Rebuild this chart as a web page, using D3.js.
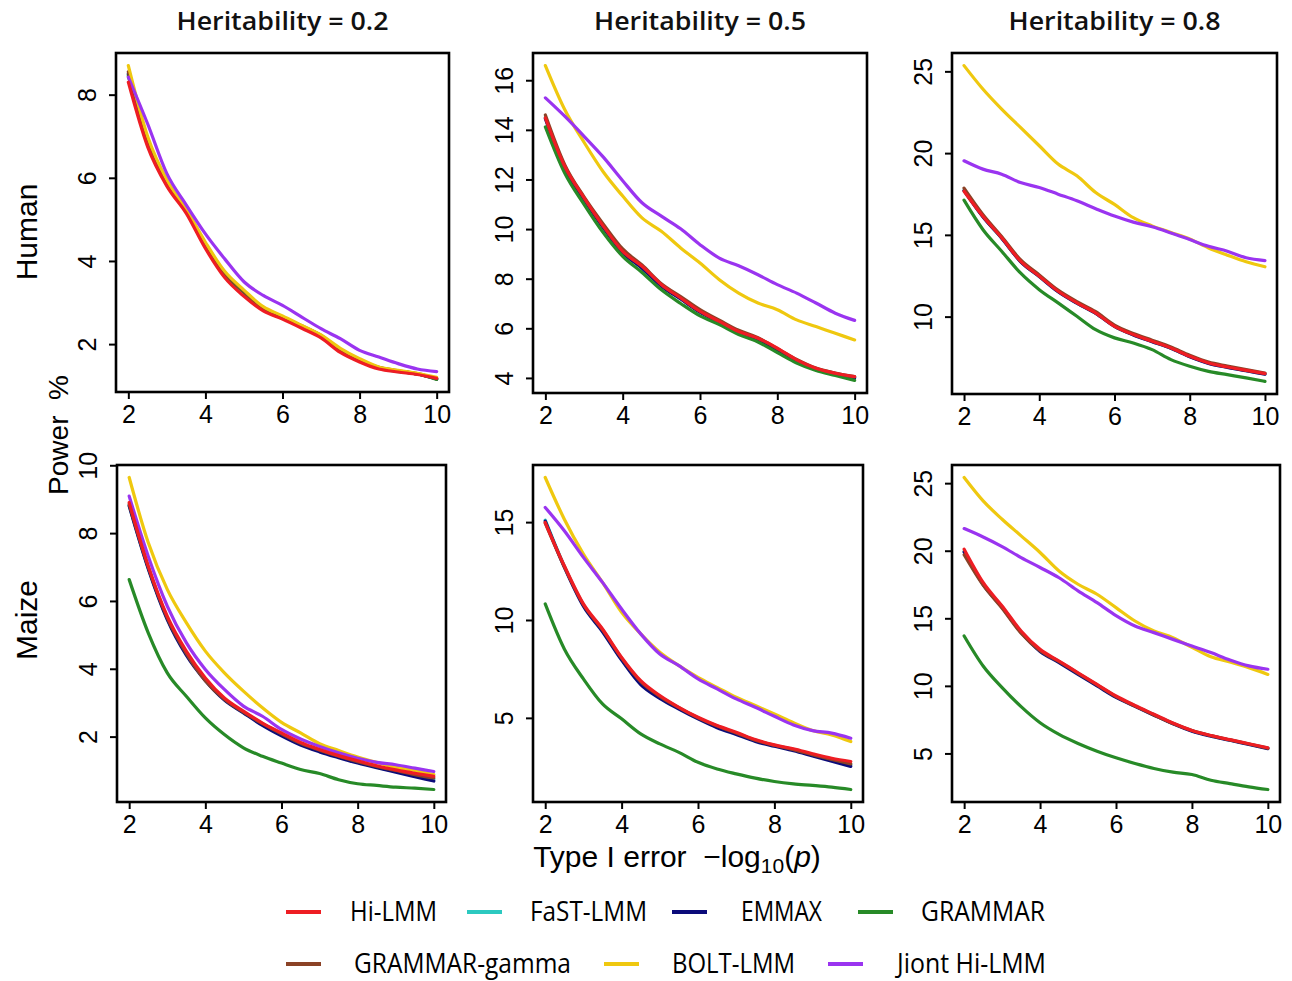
<!DOCTYPE html>
<html>
<head>
<meta charset="utf-8">
<script src="https://cdn.jsdelivr.net/npm/d3@7"></script>
<style>
  body { margin: 0; background: #fff; }
  svg { display: block; }
</style>
</head>
<body>
<svg id="chart" width="1292" height="981"></svg>
<script>
// ---- data -------------------------------------------------------------
const xValues = [2, 2.5, 3, 3.5, 4, 4.5, 5, 5.5, 6, 6.5, 7, 7.5, 8, 8.5, 9, 9.5, 10];
const xTicks = [2, 4, 6, 8, 10];

const methods = ["Hi-LMM", "FaST-LMM", "EMMAX", "GRAMMAR", "GRAMMAR-gamma", "BOLT-LMM", "Jiont Hi-LMM"];
const methodColors = ["#ee1d23", "#2cc9c0", "#0b0b7a", "#278a27", "#8b4226", "#efc80f", "#9a34f0"];

const heritabilityLabels = ["Heritability = 0.2", "Heritability = 0.5", "Heritability = 0.8"];
const speciesLabels = ["Human", "Maize"];

// power (%) per method, rows in the order of `methods`
const humanH02 = [
  [8.3, 6.75, 5.8, 5.15, 4.3, 3.6, 3.15, 2.8, 2.6, 2.38, 2.15, 1.8, 1.57, 1.4, 1.33, 1.27, 1.18],
  [8.48, 6.87, 5.87, 5.19, 4.37, 3.69, 3.24, 2.84, 2.63, 2.41, 2.19, 1.85, 1.6, 1.42, 1.34, 1.28, 1.16],
  [8.5, 6.88, 5.88, 5.2, 4.38, 3.7, 3.25, 2.85, 2.64, 2.42, 2.2, 1.86, 1.61, 1.43, 1.35, 1.28, 1.16],
  [8.45, 6.85, 5.88, 5.2, 4.38, 3.7, 3.25, 2.85, 2.63, 2.42, 2.2, 1.85, 1.6, 1.43, 1.35, 1.28, 1.15],
  [8.55, 6.9, 5.9, 5.22, 4.4, 3.72, 3.27, 2.87, 2.65, 2.44, 2.21, 1.87, 1.62, 1.44, 1.36, 1.29, 1.17],
  [8.7, 7.0, 5.95, 5.25, 4.45, 3.75, 3.3, 2.9, 2.68, 2.45, 2.22, 1.9, 1.65, 1.45, 1.37, 1.3, 1.2],
  [8.42, 7.3, 6.1, 5.35, 4.65, 4.05, 3.5, 3.17, 2.93, 2.65, 2.37, 2.13, 1.85, 1.69, 1.53, 1.4, 1.34]
];
const humanH05 = [
  [14.48, 12.53, 11.26, 10.11, 9.1, 8.5, 7.76, 7.22, 6.68, 6.28, 5.87, 5.6, 5.2, 4.73, 4.39, 4.19, 4.05],
  [14.5, 12.5, 11.22, 10.08, 9.07, 8.45, 7.73, 7.2, 6.66, 6.26, 5.85, 5.57, 5.15, 4.71, 4.37, 4.18, 4.02],
  [14.45, 12.45, 11.2, 10.05, 9.05, 8.42, 7.7, 7.18, 6.65, 6.24, 5.83, 5.55, 5.12, 4.7, 4.36, 4.17, 4.0],
  [14.12, 12.26, 11.0, 9.85, 8.9, 8.25, 7.55, 7.0, 6.5, 6.15, 5.75, 5.45, 5.02, 4.6, 4.3, 4.1, 3.9],
  [14.6, 12.6, 11.3, 10.2, 9.2, 8.55, 7.8, 7.28, 6.75, 6.33, 5.92, 5.62, 5.18, 4.75, 4.4, 4.2, 4.05],
  [16.59, 14.82, 13.5, 12.3, 11.33, 10.45, 9.91, 9.24, 8.63, 7.96, 7.42, 7.02, 6.75, 6.34, 6.07, 5.8, 5.53],
  [15.29, 14.55, 13.74, 12.9, 11.95, 11.06, 10.52, 10.01, 9.37, 8.83, 8.52, 8.16, 7.76, 7.42, 7.02, 6.61, 6.32]
];
const humanH08 = [
  [17.67, 16.14, 14.82, 13.39, 12.47, 11.55, 10.84, 10.22, 9.41, 8.9, 8.49, 8.08, 7.57, 7.16, 6.92, 6.71, 6.51],
  [17.72, 16.12, 14.81, 13.38, 12.46, 11.54, 10.83, 10.21, 9.41, 8.89, 8.48, 8.07, 7.56, 7.15, 6.91, 6.7, 6.5],
  [17.7, 16.1, 14.8, 13.37, 12.45, 11.52, 10.82, 10.2, 9.4, 8.88, 8.47, 8.06, 7.55, 7.14, 6.9, 6.69, 6.48],
  [17.12, 15.33, 14.0, 12.67, 11.65, 10.84, 10.02, 9.2, 8.7, 8.39, 7.98, 7.37, 6.96, 6.65, 6.45, 6.25, 6.04],
  [17.86, 16.25, 14.9, 13.48, 12.55, 11.62, 10.92, 10.3, 9.48, 8.97, 8.56, 8.14, 7.64, 7.22, 6.98, 6.76, 6.55],
  [25.35, 23.92, 22.69, 21.57, 20.45, 19.33, 18.61, 17.59, 16.86, 16.05, 15.55, 15.15, 14.75, 14.2, 13.76, 13.35, 13.05],
  [19.53, 19.02, 18.71, 18.2, 17.9, 17.49, 17.08, 16.6, 16.15, 15.78, 15.5, 15.12, 14.71, 14.3, 14.0, 13.6, 13.43]
];
const maizeH02 = [
  [8.9, 7.03, 5.55, 4.52, 3.73, 3.14, 2.75, 2.4, 2.11, 1.83, 1.62, 1.44, 1.29, 1.14, 1.02, 0.92, 0.83],
  [8.82, 6.97, 5.48, 4.45, 3.68, 3.1, 2.72, 2.36, 2.05, 1.78, 1.58, 1.4, 1.25, 1.1, 0.98, 0.86, 0.74],
  [8.8, 6.95, 5.45, 4.4, 3.65, 3.08, 2.7, 2.33, 2.02, 1.75, 1.55, 1.38, 1.22, 1.08, 0.95, 0.82, 0.69],
  [6.63, 5.06, 3.88, 3.19, 2.55, 2.06, 1.67, 1.42, 1.22, 1.03, 0.91, 0.73, 0.61, 0.56, 0.51, 0.48, 0.44],
  [8.85, 7.0, 5.5, 4.45, 3.65, 3.1, 2.72, 2.38, 2.08, 1.8, 1.6, 1.42, 1.26, 1.12, 1.0, 0.88, 0.78],
  [9.64, 7.72, 6.34, 5.36, 4.52, 3.88, 3.34, 2.85, 2.42, 2.11, 1.79, 1.59, 1.4, 1.24, 1.1, 1.0, 0.88],
  [9.09, 7.32, 5.85, 4.77, 3.98, 3.39, 2.9, 2.6, 2.21, 1.93, 1.71, 1.52, 1.36, 1.24, 1.17, 1.07, 0.97]
];
const maizeH05 = [
  [14.98, 12.77, 10.82, 9.54, 8.09, 6.9, 6.14, 5.54, 5.03, 4.61, 4.27, 3.89, 3.62, 3.42, 3.17, 2.94, 2.77],
  [15.1, 12.75, 10.75, 9.45, 8.0, 6.78, 6.06, 5.5, 5.0, 4.55, 4.2, 3.85, 3.58, 3.37, 3.1, 2.85, 2.6],
  [15.05, 12.7, 10.7, 9.4, 7.95, 6.7, 6.0, 5.45, 4.95, 4.5, 4.15, 3.8, 3.55, 3.32, 3.05, 2.78, 2.52],
  [10.82, 8.52, 6.99, 5.71, 4.95, 4.18, 3.67, 3.24, 2.73, 2.39, 2.14, 1.92, 1.75, 1.63, 1.55, 1.46, 1.34],
  [14.95, 12.72, 10.78, 9.5, 8.05, 6.85, 6.1, 5.52, 5.0, 4.58, 4.23, 3.86, 3.6, 3.38, 3.12, 2.88, 2.65],
  [17.28, 15.15, 13.37, 11.92, 10.39, 9.29, 8.35, 7.67, 7.07, 6.56, 6.05, 5.63, 5.2, 4.75, 4.35, 4.13, 3.79],
  [15.75, 14.56, 13.2, 11.92, 10.56, 9.29, 8.26, 7.67, 6.99, 6.48, 5.97, 5.54, 5.08, 4.64, 4.35, 4.22, 3.96]
];
const maizeH08 = [
  [20.11, 17.65, 15.91, 14.06, 12.7, 11.84, 10.97, 10.11, 9.25, 8.55, 7.9, 7.25, 6.7, 6.33, 6.02, 5.72, 5.42],
  [19.95, 17.55, 15.85, 14.0, 12.6, 11.78, 10.9, 10.05, 9.2, 8.52, 7.87, 7.23, 6.68, 6.31, 6.0, 5.7, 5.4],
  [19.9, 17.5, 15.8, 13.95, 12.55, 11.72, 10.85, 10.0, 9.15, 8.48, 7.83, 7.2, 6.65, 6.28, 5.98, 5.66, 5.35],
  [13.69, 11.47, 9.87, 8.46, 7.27, 6.41, 5.74, 5.17, 4.68, 4.26, 3.89, 3.62, 3.44, 3.02, 2.77, 2.53, 2.33],
  [19.7, 17.45, 15.75, 13.9, 12.6, 11.8, 10.93, 10.08, 9.2, 8.5, 7.85, 7.22, 6.7, 6.32, 6.0, 5.7, 5.38],
  [25.42, 23.69, 22.33, 21.1, 19.87, 18.5, 17.52, 16.78, 15.79, 14.8, 14.06, 13.57, 12.85, 12.15, 11.77, 11.35, 10.85],
  [21.64, 21.02, 20.31, 19.49, 18.76, 18.0, 17.03, 16.16, 15.2, 14.43, 13.94, 13.44, 12.95, 12.46, 11.92, 11.48, 11.23]
];

const yTicksHuman = [[2, 4, 6, 8], [4, 6, 8, 10, 12, 14, 16], [10, 15, 20, 25]];
const yTicksMaize = [[2, 4, 6, 8, 10], [5, 10, 15], [5, 10, 15, 20, 25]];

// ---- layout -----------------------------------------------------------
const svg = d3.select("#chart");
const tickFont = "'Liberation Sans', Arial, Helvetica, sans-serif";
const labelFont = "'Open Sans', 'Noto Sans', 'Liberation Sans', sans-serif";

const panels = [
  { row: 0, col: 0, data: humanH02, yTicks: yTicksHuman[0], box: [116, 449, 53, 392] },
  { row: 0, col: 1, data: humanH05, yTicks: yTicksHuman[1], box: [533, 867, 53, 393] },
  { row: 0, col: 2, data: humanH08, yTicks: yTicksHuman[2], box: [952, 1277, 53, 394] },
  { row: 1, col: 0, data: maizeH02, yTicks: yTicksMaize[0], box: [117, 446, 465, 802] },
  { row: 1, col: 1, data: maizeH05, yTicks: yTicksMaize[1], box: [533, 863, 465, 802] },
  { row: 1, col: 2, data: maizeH08, yTicks: yTicksMaize[2], box: [952, 1280, 465, 802] }
];

// lines drawn back to front; Hi-LMM ends up on top
const drawOrder = [1, 2, 3, 4, 5, 6, 0];

panels.forEach(p => {
  const [x0, x1, y0, y1] = p.box;
  const g = svg.append("g");

  // R-style axis limits: data range widened by 4% on each side
  const xr = d3.extent(xValues), xpad = (xr[1] - xr[0]) * 0.04;
  const x = d3.scaleLinear().domain([xr[0] - xpad, xr[1] + xpad]).range([x0, x1]);
  const all = p.data.flat();
  const yr = d3.extent(all), ypad = (yr[1] - yr[0]) * 0.04;
  const y = d3.scaleLinear().domain([yr[0] - ypad, yr[1] + ypad]).range([y1, y0]);

  const line = d3.line()
    .x((d, i) => x(xValues[i]))
    .y(d => y(d))
    .curve(d3.curveMonotoneX);

  drawOrder.forEach(m => {
    g.append("path")
      .datum(p.data[m])
      .attr("d", line)
      .attr("fill", "none")
      .attr("stroke", methodColors[m])
      .attr("stroke-width", 3.2)
      .attr("stroke-linejoin", "round")
      .attr("stroke-linecap", "round");
  });

  // frame
  g.append("rect")
    .attr("x", x0).attr("y", y0)
    .attr("width", x1 - x0).attr("height", y1 - y0)
    .attr("fill", "none").attr("stroke", "#000").attr("stroke-width", 2.6);

  // x axis
  const xAxis = d3.axisBottom(x).tickValues(xTicks).tickSize(7).tickPadding(6).tickFormat(d3.format("d"));
  const gx = g.append("g").attr("transform", `translate(0,${y1})`).call(xAxis);
  gx.select(".domain").remove();
  gx.selectAll(".tick line").attr("stroke", "#000").attr("stroke-width", 2);
  gx.selectAll(".tick text")
    .attr("font-family", tickFont).attr("font-size", 25).attr("fill", "#000")
    .attr("dy", null).attr("y", 31);

  // y axis, labels parallel to the axis
  const yAxis = d3.axisLeft(y).tickValues(p.yTicks).tickSize(7).tickFormat(d3.format("d"));
  const gy = g.append("g").attr("transform", `translate(${x0},0)`).call(yAxis);
  gy.select(".domain").remove();
  gy.selectAll(".tick line").attr("stroke", "#000").attr("stroke-width", 2);
  gy.selectAll(".tick text")
    .attr("font-family", tickFont).attr("font-size", 25).attr("fill", "#000")
    .attr("x", null).attr("dy", null)
    .attr("text-anchor", "middle")
    .attr("transform", "translate(-20,0) rotate(-90)");

  // column headers
  if (p.row === 0) {
    svg.append("text")
      .attr("x", (x0 + x1) / 2).attr("y", 30)
      .attr("text-anchor", "middle")
      .attr("font-family", labelFont).attr("font-size", 26).attr("font-weight", 600)
      .attr("fill", "#111")
      .attr("textLength", 212).attr("lengthAdjust", "spacingAndGlyphs")
      .text(heritabilityLabels[p.col]);
  }
});

// row labels
[[232, speciesLabels[0]], [620, speciesLabels[1]]].forEach(([cy, label]) => {
  svg.append("text")
    .attr("transform", `translate(37,${cy}) rotate(-90)`)
    .attr("text-anchor", "middle")
    .attr("font-family", tickFont).attr("font-size", 30).attr("fill", "#000")
    .text(label);
});

// shared y title
svg.append("text")
  .attr("transform", "translate(68,435) rotate(-90)")
  .attr("text-anchor", "middle")
  .attr("font-family", tickFont).attr("font-size", 28).attr("fill", "#000")
  .attr("xml:space", "preserve")
  .text("Power  %");

// shared x title
const xt = svg.append("text")
  .attr("x", 677).attr("y", 867)
  .attr("text-anchor", "middle")
  .attr("font-family", tickFont).attr("font-size", 30).attr("fill", "#000")
  .attr("xml:space", "preserve");
xt.append("tspan").text("Type I error  \u2212log");
xt.append("tspan").attr("font-size", 21).attr("dy", 6).text("10");
xt.append("tspan").attr("dy", -6).text("(");
xt.append("tspan").attr("font-style", "italic").text("p");
xt.append("tspan").text(")");

// legend: condensed labels fitted to fixed widths
const legendSlots = [
  { lineX: 286, textX: 350, width: 87,  cy: 912 },
  { lineX: 467, textX: 530, width: 117, cy: 912 },
  { lineX: 672, textX: 741, width: 81,  cy: 912 },
  { lineX: 858, textX: 921, width: 124, cy: 912 },
  { lineX: 286, textX: 354, width: 217, cy: 964 },
  { lineX: 604, textX: 672, width: 123, cy: 964 },
  { lineX: 828, textX: 897, width: 149, cy: 964 }
];
const legend = svg.append("g");
methods.forEach((name, i) => {
  const s = legendSlots[i];
  legend.append("line")
    .attr("x1", s.lineX).attr("x2", s.lineX + 35)
    .attr("y1", s.cy).attr("y2", s.cy)
    .attr("stroke", methodColors[i]).attr("stroke-width", 4);
  legend.append("text")
    .attr("x", s.textX).attr("y", s.cy + 9)
    .attr("font-family", labelFont).attr("font-size", 27).attr("fill", "#000")
    .attr("textLength", s.width).attr("lengthAdjust", "spacingAndGlyphs")
    .text(name);
});
</script>
</body>
</html>
